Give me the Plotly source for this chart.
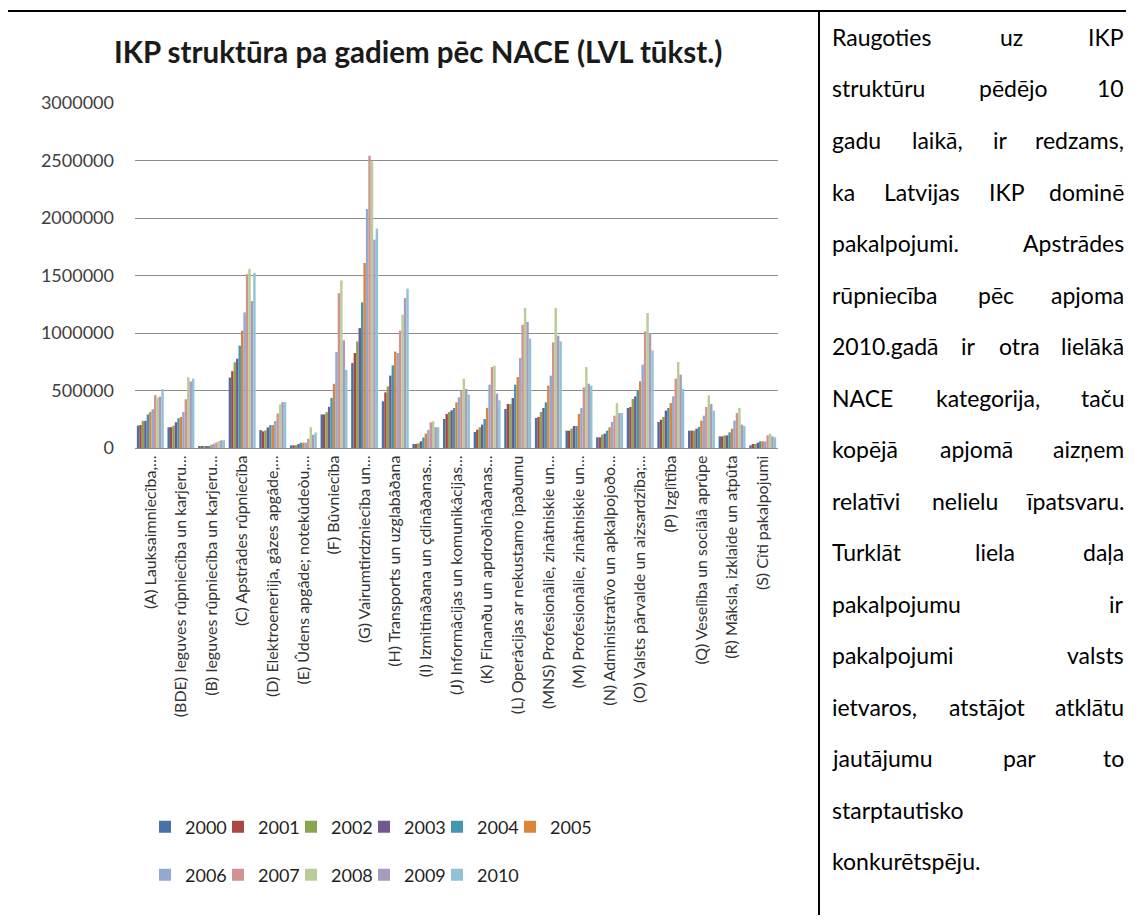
import plotly.graph_objects as go

# NACE categories (labels as they appear on the chart, truncated)
categories = [
    "(A) Lauksaimniecîba,...",
    "(BDE) Ieguves rûpniecîba un karjeru...",
    "(B) Ieguves rûpniecîba un karjeru...",
    "(C) Apstrâdes rûpniecîba",
    "(D) Elektroenerìija, gâzes apgâde,...",
    "(E) Ûdens apgâde; notekûdeòu,...",
    "(F) Bûvniecîba",
    "(G) Vairumtirdzniecîba un...",
    "(H) Transports un uzglabâðana",
    "(I) Izmitinâðana un çdinâðanas...",
    "(J) Informâcijas un komunikâcijas...",
    "(K) Finanðu un apdroðinâðanas...",
    "(L) Operâcijas ar nekustamo îpaðumu",
    "(MNS) Profesionâlie, zinâtniskie un...",
    "(M) Profesionâlie, zinâtniskie un...",
    "(N) Administratîvo un apkalpojoðo...",
    "(O) Valsts pârvalde un aizsardzîba;...",
    "(P) Izglîtîba",
    "(Q) Veselîba un sociâlâ aprûpe",
    "(R) Mâksla, izklaide un atpûta",
    "(S) Cîti pakalpojumi",
]

years = [2000, 2001, 2002, 2003, 2004, 2005, 2006, 2007, 2008, 2009, 2010]

# values in LVL thousand, one list per year (same order as categories)
gdp_2000 = [194000, 181000, 12000, 613000, 156000, 23000, 292000, 739000, 406000, 35000, 252000,
            139000, 339000, 261000, 151000, 93000, 348000, 226000, 151000, 101000, 23000]
gdp_2001 = [200000, 181000, 12000, 668000, 145000, 23000, 292000, 826000, 484000, 35000, 296000,
            159000, 383000, 270000, 151000, 93000, 357000, 246000, 151000, 101000, 35000]
gdp_2002 = [236000, 194000, 12000, 746000, 153000, 25000, 312000, 927000, 536000, 42000, 313000,
            180000, 383000, 313000, 168000, 116000, 426000, 270000, 151000, 110000, 35000]
gdp_2003 = [236000, 224000, 12000, 777000, 179000, 35000, 358000, 1043000, 629000, 59000, 328000,
            203000, 435000, 348000, 191000, 125000, 449000, 325000, 168000, 110000, 46000]
gdp_2004 = [292000, 258000, 16000, 890000, 199000, 46000, 436000, 1267000, 719000, 91000, 348000,
            252000, 551000, 397000, 191000, 151000, 499000, 348000, 183000, 136000, 58000]
gdp_2005 = [314000, 269000, 28000, 1020000, 199000, 46000, 558000, 1609000, 838000, 125000, 397000,
            348000, 617000, 542000, 296000, 180000, 580000, 391000, 238000, 168000, 58000]
gdp_2006 = [337000, 312000, 38000, 1179000, 234000, 46000, 835000, 2078000, 826000, 158000, 441000,
            551000, 783000, 629000, 348000, 226000, 725000, 449000, 281000, 238000, 58000]
gdp_2007 = [460000, 424000, 49000, 1511000, 300000, 80000, 1347000, 2542000, 1020000, 223000, 501000,
            704000, 1072000, 919000, 528000, 281000, 1014000, 603000, 357000, 304000, 110000]
gdp_2008 = [438000, 615000, 60000, 1558000, 379000, 181000, 1457000, 2493000, 1159000, 233000, 603000,
            716000, 1217000, 1217000, 704000, 391000, 1174000, 748000, 458000, 348000, 125000]
gdp_2009 = [447000, 579000, 67000, 1277000, 399000, 115000, 936000, 1812000, 1304000, 181000, 513000,
            472000, 1096000, 977000, 559000, 304000, 1000000, 638000, 383000, 203000, 101000]
gdp_2010 = [511000, 603000, 67000, 1523000, 399000, 135000, 679000, 1907000, 1386000, 181000, 464000,
            414000, 951000, 928000, 542000, 304000, 849000, 513000, 325000, 191000, 93000]

series = [gdp_2000, gdp_2001, gdp_2002, gdp_2003, gdp_2004, gdp_2005,
          gdp_2006, gdp_2007, gdp_2008, gdp_2009, gdp_2010]

colors = ['#4572A7', '#AA4643', '#89A54E', '#71588F', '#4198AF', '#DB843D',
          '#93A9CF', '#D19392', '#B9CD96', '#A99BBD', '#92C3D4']

# text of the right-hand table cell, line by line
side_lines = [
    "Raugoties uz IKP",
    "struktūru pēdējo 10",
    "gadu laikā, ir redzams,",
    "ka Latvijas IKP dominē",
    "pakalpojumi. Apstrādes",
    "rūpniecība pēc apjoma",
    "2010.gadā ir otra lielākā",
    "NACE kategorija, taču",
    "kopējā apjomā aizņem",
    "relatīvi nelielu īpatsvaru.",
    "Turklāt liela daļa",
    "pakalpojumu ir",
    "pakalpojumi valsts",
    "ietvaros, atstājot atklātu",
    "jautājumu par to",
    "starptautisko",
    "konkurētspēju.",
]
side_justify = [True] * 15 + [False, False]

# page geometry in page pixels; the html body adds an 8px margin
OFF = 8
W, H = 1134 - 2 * OFF, 923 - 2 * OFF
PX0, PX1, PY0, PY1 = 135, 778, 103, 448


def px_x(px):
    return (px - PX0) / (PX1 - PX0)


def px_y(py):
    return (PY1 - py) / (PY1 - PY0)


# rough Lato advance widths (em) for justifying the side text
CHAR_W = {
    'a': .51, 'b': .565, 'c': .47, 'd': .565, 'e': .53, 'f': .33, 'g': .50, 'h': .565,
    'i': .24, 'j': .24, 'k': .52, 'l': .24, 'm': .85, 'n': .565, 'o': .57, 'p': .565,
    'r': .375, 's': .43, 't': .36, 'u': .565, 'v': .52, 'z': .46, '.': .21, ',': .21,
    'ā': .51, 'ē': .53, 'ī': .24, 'ū': .565, 'č': .47, 'ļ': .24, 'ņ': .565,
    'A': .66, 'C': .68, 'E': .56, 'I': .28, 'K': .64, 'L': .50, 'N': .74, 'P': .59,
    'R': .61, 'T': .58,
}


def text_width(word, size):
    return sum(CHAR_W.get(ch, .58) for ch in word) * size


fig = go.Figure()

for i, (year, vals, color) in enumerate(zip(years, series, colors)):
    fig.add_trace(
        go.Bar(
            x=categories,
            y=vals,
            name=str(year),
            marker_color=color,
            marker_line_width=0,
            legend='legend' if i < 6 else 'legend2',
            # last entry of each legend row gets room for its text
            legendwidth=60 if year in (2005, 2010) else None
        )
    )

legend_style = dict(
    orientation='h',
    x=px_x(145),
    xanchor='left',
    yanchor='middle',
    entrywidth=28,
    entrywidthmode='pixels',
    font=dict(size=18, color='#1f1f1f', family='Lato'),
    bgcolor='rgba(0,0,0,0)',
    traceorder='normal'
)

fig.update_layout(
    width=W,
    height=H,
    margin=dict(l=PX0 - OFF, r=W - (PX1 - OFF), t=PY0 - OFF, b=H - (PY1 - OFF), autoexpand=False),
    plot_bgcolor='white',
    paper_bgcolor='white',
    font=dict(family='Lato', color='#404040'),
    barmode='group',
    bargap=0.12,
    bargroupgap=0,
    showlegend=True,
    legend=dict(legend_style, y=px_y(827)),
    legend2=dict(legend_style, y=px_y(875)),
)

fig.update_yaxes(
    range=[0, 3000000],
    dtick=500000,
    tickformat='d',
    showgrid=True,
    gridcolor='#8c8c8c',
    gridwidth=1.3,
    zeroline=True,
    zerolinecolor='#8c8c8c',
    zerolinewidth=1.3,
    showline=False,
    ticks='',
    ticklabelstandoff=20,
    tickfont=dict(size=18, color='#404040'),
)

fig.update_xaxes(
    tickangle=-90,
    showline=True,
    linecolor='#8c8c8c',
    linewidth=1.3,
    ticks='',
    tickfont=dict(size=16, color='#333333'),
)

# chart title
fig.add_annotation(
    text='<b>IKP struktūra pa gadiem pēc NACE (LVL tūkst.)</b>',
    xref='paper', yref='paper',
    x=px_x(418), y=px_y(52),
    xanchor='center', yanchor='middle',
    showarrow=False,
    font=dict(size=29.5, color='#1a1a1a', family='Lato'),
)

# right-hand text cell, justified between two edges
left_px, right_px = 830, 1126
size = 23
for k, (line, justify) in enumerate(zip(side_lines, side_justify)):
    y = px_y(37 + 51.5 * k)
    words = line.split(' ')
    if not justify or len(words) == 1:
        fig.add_annotation(text=line, xref='paper', yref='paper', x=px_x(left_px), y=y,
                           xanchor='left', yanchor='middle', showarrow=False,
                           font=dict(size=size, color='black', family='Lato'))
        continue
    widths = [text_width(w, size) for w in words]
    gap = (right_px - left_px - sum(widths)) / (len(words) - 1)
    pos = left_px
    for j, (w, wd) in enumerate(zip(words, widths)):
        if j == len(words) - 1:
            fig.add_annotation(text=w, xref='paper', yref='paper', x=px_x(right_px), y=y,
                               xanchor='right', yanchor='middle', showarrow=False,
                               font=dict(size=size, color='black', family='Lato'))
        else:
            fig.add_annotation(text=w, xref='paper', yref='paper', x=px_x(pos), y=y,
                               xanchor='left', yanchor='middle', showarrow=False,
                               font=dict(size=size, color='black', family='Lato'))
        pos += wd + gap

# table borders
border = dict(color='black', width=2)
fig.add_shape(type='line', xref='paper', yref='paper',
              x0=px_x(3), x1=px_x(1140), y0=px_y(11), y1=px_y(11), line=border)
fig.add_shape(type='line', xref='paper', yref='paper',
              x0=px_x(4.5), x1=px_x(4.5), y0=px_y(10), y1=px_y(940), line=border)
fig.add_shape(type='line', xref='paper', yref='paper',
              x0=px_x(819), x1=px_x(819), y0=px_y(10), y1=px_y(940), line=border)

fig.write_html("out.html")
